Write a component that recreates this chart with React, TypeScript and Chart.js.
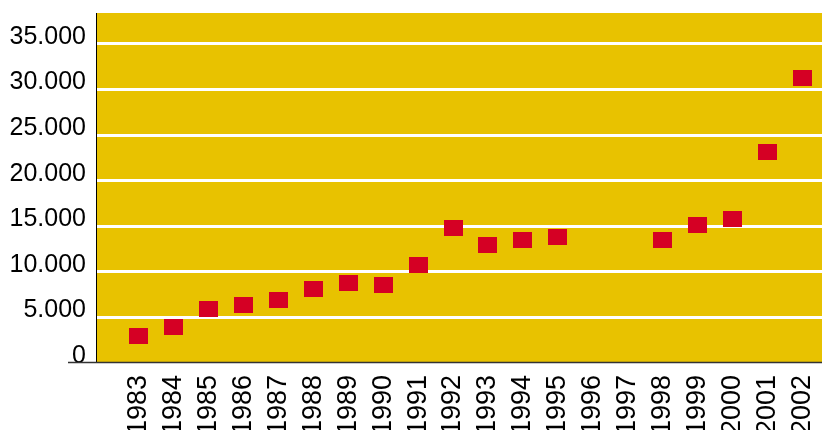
import React, { useEffect, useRef } from 'react';
import { Chart, registerables } from 'chart.js';

Chart.register(...registerables);

const years = [1983, 1984, 1985, 1986, 1987, 1988, 1989, 1990, 1991, 1992, 1993, 1994, 1995, 1996, 1997, 1998, 1999, 2000, 2001, 2002];
const values: (number | null)[] = [3000, 3900, 5900, 6400, 6900, 8100, 8800, 8600, 10800, 14800, 13000, 13500, 13800, null, null, 13500, 15100, 15800, 23100, 31300];
const yTickValues = [0, 5000, 10000, 15000, 20000, 25000, 30000, 35000];
const yTickLabels = ['0', '5.000', '10.000', '15.000', '20.000', '25.000', '30.000', '35.000'];

const BG = '#E8C200';
const RED = '#D50024';

export default function App() {
  const ref = useRef<HTMLCanvasElement | null>(null);

  useEffect(() => {
    const canvas = ref.current;
    if (!canvas) return;

    const marker = document.createElement('canvas');
    marker.width = 19;
    marker.height = 16;
    const mctx = marker.getContext('2d');
    if (mctx) {
      mctx.fillStyle = RED;
      mctx.fillRect(0, 0, 19, 16);
    }

    const points = years
      .map((yr, i) => ({ x: yr, y: values[i] }))
      .filter((p) => p.y !== null);

    const bgPlugin = {
      id: 'bgPlugin',
      beforeDraw(chart: any) {
        const { ctx, chartArea } = chart;
        ctx.save();
        ctx.fillStyle = BG;
        ctx.fillRect(chartArea.left, chartArea.top, chartArea.right - chartArea.left, chartArea.bottom - chartArea.top);
        ctx.restore();
      },
      afterDraw(chart: any) {
        const { ctx, chartArea } = chart;
        const y = chart.scales.y.getPixelForValue(0) - 0.5;
        ctx.save();
        ctx.strokeStyle = '#000000';
        ctx.lineWidth = 1;
        ctx.beginPath();
        ctx.moveTo(chartArea.left - 0.5, chartArea.top);
        ctx.lineTo(chartArea.left - 0.5, y);
        ctx.stroke();
        ctx.strokeStyle = '#333333';
        ctx.lineWidth = 1.5;
        ctx.beginPath();
        ctx.moveTo(chartArea.left - 29, y);
        ctx.lineTo(chartArea.right, y);
        ctx.stroke();
        ctx.restore();
      },
    };

    const chart = new Chart(canvas, {
      type: 'scatter',
      data: {
        datasets: [
          {
            data: points as any,
            pointStyle: marker as any,
            pointRadius: 10,
            pointHoverRadius: 10,
            showLine: false,
          },
        ],
      },
      options: {
        responsive: false,
        animation: false,
        devicePixelRatio: 1,
        layout: { autoPadding: false, padding: { top: 13, left: 0, right: 0, bottom: 0 } },
        plugins: {
          legend: { display: false },
          tooltip: { enabled: false },
        },
        scales: {
          x: {
            type: 'linear',
            min: 1981.81,
            max: 2002.56,
            afterBuildTicks: (scale: any) => {
              scale.ticks = years.map((v) => ({ value: v }));
            },
            afterFit: (scale: any) => {
              scale.height = 67;
              scale.paddingLeft = 0;
              scale.paddingRight = 0;
            },
            grid: { display: false, drawTicks: false },
            border: { display: false },
            ticks: {
              autoSkip: false,
              minRotation: 90,
              maxRotation: 90,
              padding: 12,
              color: '#000',
              font: { family: '"Liberation Sans", Arial, sans-serif', size: 27 },
              callback: (v: any) => String(v),
            },
          },
          y: {
            type: 'linear',
            min: 0,
            max: 38400,
            afterBuildTicks: (scale: any) => {
              scale.ticks = yTickValues.map((v) => ({ value: v }));
            },
            afterFit: (scale: any) => {
              scale.width = 97;
              scale.paddingTop = 0;
              scale.paddingBottom = 0;
            },
            grid: {
              drawTicks: false,
              lineWidth: 3,
              color: (c: any) => (c.tick && c.tick.value === 0 ? 'rgba(0,0,0,0)' : '#FFFFFF'),
            },
            border: { display: false },
            ticks: {
              padding: 11,
              labelOffset: -7,
              color: '#000',
              font: { family: '"Liberation Sans", Arial, sans-serif', size: 25 },
              callback: (v: any) => {
                const i = yTickValues.indexOf(Number(v));
                return i >= 0 ? yTickLabels[i] : '';
              },
            },
          },
        },
      },
      plugins: [bgPlugin],
    });

    return () => {
      chart.destroy();
    };
  }, []);

  return (
    <div style={{ position: 'fixed', left: 0, top: 0, width: 822, height: 430, background: '#fff' }}>
      <canvas ref={ref} width={822} height={430} style={{ display: 'block', width: 822, height: 430 }} />
    </div>
  );
}
